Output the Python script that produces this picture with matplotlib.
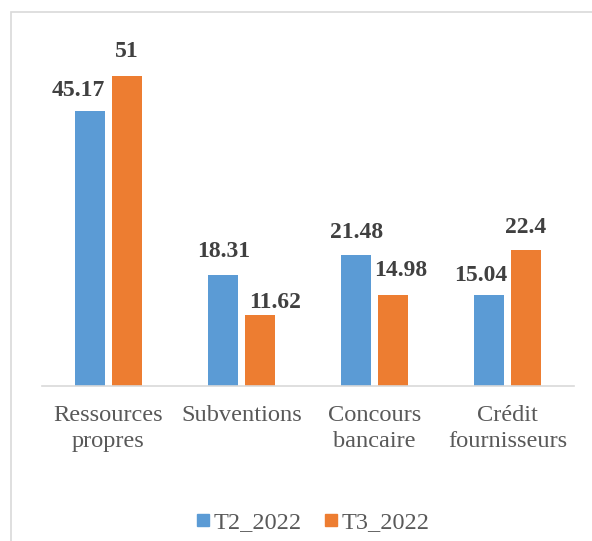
import matplotlib
matplotlib.use("Agg")
import matplotlib.pyplot as plt
from matplotlib.patches import Rectangle
from matplotlib.lines import Line2D
import numpy as np

categories = ["Ressources\npropres", "Subventions", "Concours\nbancaire", "Crédit\nfournisseurs"]
series_names = ["T2_2022", "T3_2022"]
t2_values = [45.17, 18.31, 21.48, 15.04]
t3_values = [51, 11.62, 14.98, 22.4]
t2_labels = ["45.17", "18.31", "21.48", "15.04"]
t3_labels = ["51", "11.62", "14.98", "22.4"]

# label offsets (points) mimicking the reference placement
t2_off = [(-8.6, 10.8), (0, 13.0), (0, 12.2), (-5.8, 10.0)]
t3_off = [(0, 13.7), (10.8, 5.0), (5.8, 13.7), (0, 12.2)]

blue = "#5B9BD5"
orange = "#ED7D31"
textc = "#595959"
labc = "#404040"

plt.rcParams['font.family'] = ['Liberation Serif', 'DejaVu Serif']

W, H = 592, 541
fig = plt.figure(figsize=(W / 100, H / 100), dpi=100)
fig.patches.append(Rectangle((11 / W, -0.1), 1.2, 1 - 12 / H + 0.1, transform=fig.transFigure,
                             fill=False, edgecolor="#D9D9D9", linewidth=1.2, zorder=0))

left, right = 42 / W, 574 / W
bottom, top = 1 - 386 / H, 1 - 30 / H
ax = fig.add_axes([left, bottom, right - left, top - bottom])

x = np.arange(len(categories))
bw = 0.225
off = 0.137
b1 = ax.bar(x - off, t2_values, bw, color=blue, label=series_names[0], zorder=2)
b2 = ax.bar(x + off, t3_values, bw, color=orange, label=series_names[1], zorder=2)

for bars, labels, offs in ((b1, t2_labels, t2_off), (b2, t3_labels, t3_off)):
    for rect, lab, (dx, dy) in zip(bars, labels, offs):
        ax.annotate(lab, (rect.get_x() + rect.get_width() / 2, rect.get_height()),
                    xytext=(dx, dy), textcoords="offset points", ha="center", va="baseline",
                    fontsize=17, fontweight="bold", color=labc)

ax.set_xlim(-0.5, len(categories) - 0.5)
ax.set_ylim(0, 356 / 6.08)
for s in ("top", "right", "left"):
    ax.spines[s].set_visible(False)
ax.spines["bottom"].set_color("#D9D9D9")
ax.spines["bottom"].set_linewidth(1.2)
ax.set_yticks([])
ax.set_xticks(x)
ax.set_xticklabels(categories, fontsize=17.6, color=textc, linespacing=1.28)
ax.tick_params(axis="x", length=0, pad=14)

handles = [Line2D([], [], marker="s", linestyle="none", markersize=8, color=c) for c in (blue, orange)]
fig.legend(handles, series_names, loc="center", bbox_to_anchor=(313.5 / W, 1 - 522 / H), ncol=2,
           frameon=False, fontsize=17.5, labelcolor=textc, handletextpad=0.2, columnspacing=1.0,
           handlelength=0.45)

fig.savefig("out.png", dpi=100)
